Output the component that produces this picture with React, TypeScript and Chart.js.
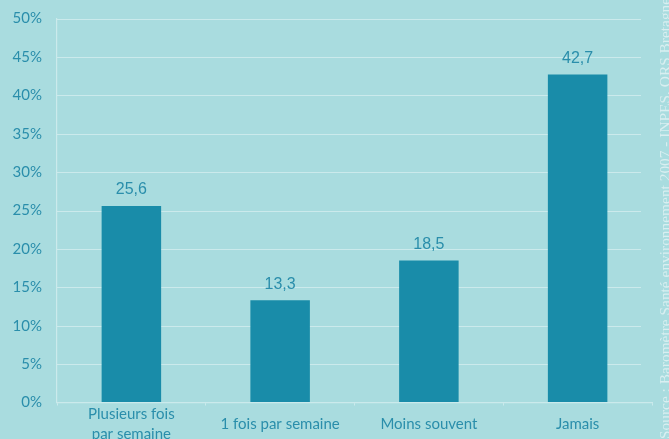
import React, { useEffect, useRef } from "react";
import { Chart, registerables } from "chart.js";

Chart.register(...registerables);

const categories: (string | string[])[] = [
  ["Plusieurs fois", "par semaine"],
  "1 fois par semaine",
  "Moins souvent",
  "Jamais",
];
const values: number[] = [25.6, 13.3, 18.5, 42.7];
const yMax = 50;
const yStep = 5;
const sourceText = "Source : Baromètre Santé environnement 2007 - INPES, ORS Bretagne";

const BG = "#a9dcdf";
const BAR = "#198ca9";
const TEXT = "#2a8eab";
const GRID = "#cbeaec";
const SRC = "rgba(255,255,255,0.55)";

export default function App() {
  const ref = useRef<HTMLCanvasElement | null>(null);

  useEffect(() => {
    document.body.style.margin = "0";
    const canvas = ref.current;
    if (!canvas) return;

    const gridPlugin = {
      id: "customGrid",
      beforeDatasetsDraw(chart: any) {
        const { ctx, chartArea, scales } = chart;
        const y = scales.y;
        ctx.save();
        ctx.strokeStyle = GRID;
        ctx.lineWidth = 1.2;
        y.ticks.forEach((t: any) => {
          if (t.value === 0) return;
          const py = Math.round(y.getPixelForValue(t.value)) + 0.5;
          ctx.beginPath();
          ctx.moveTo(chartArea.left, py);
          ctx.lineTo(chartArea.right - 11, py);
          ctx.stroke();
        });
        ctx.restore();
      },
    };

    const labelPlugin = {
      id: "valueLabels",
      afterDatasetsDraw(chart: any) {
        const { ctx } = chart;
        const meta = chart.getDatasetMeta(0);
        ctx.save();
        ctx.fillStyle = TEXT;
        ctx.font = "16px 'Liberation Sans', Arial, sans-serif";
        ctx.textAlign = "center";
        ctx.textBaseline = "middle";
        meta.data.forEach((bar: any, i: number) => {
          const txt = values[i].toFixed(1).replace(".", ",");
          ctx.fillText(txt, bar.x, bar.y - 16);
        });
        ctx.restore();
      },
    };

    const sourcePlugin = {
      id: "sourceText",
      afterDraw(chart: any) {
        const { ctx } = chart;
        ctx.save();
        ctx.translate(670, 439);
        ctx.rotate(-Math.PI / 2);
        ctx.fillStyle = SRC;
        ctx.font = "15.4px 'Liberation Serif', 'Times New Roman', serif";
        ctx.textAlign = "left";
        ctx.textBaseline = "alphabetic";
        ctx.fillText(sourceText, 0, 0);
        ctx.restore();
      },
    };

    const chart = new Chart(canvas, {
      type: "bar",
      data: {
        labels: categories,
        datasets: [
          {
            data: values,
            backgroundColor: BAR,
            borderWidth: 0,
            barPercentage: 0.4,
            categoryPercentage: 1,
          },
        ],
      },
      options: {
        responsive: false,
        animation: false,
        layout: { padding: { top: 18.5, right: 17, left: 0, bottom: 0 } },
        plugins: {
          legend: { display: false },
          tooltip: { enabled: false },
          title: { display: false },
        },
        scales: {
          x: {
            afterFit(scale: any) {
              scale.height = 36.5;
              scale.paddingLeft = 0;
              scale.paddingRight = 0;
            },
            grid: {
              drawOnChartArea: false,
              drawTicks: true,
              tickLength: 3,
              color: GRID,
              offset: true,
            },
            border: { display: true, color: GRID, width: 1.2 },
            ticks: {
              color: TEXT,
              font: { family: "Lato, 'Open Sans', sans-serif", size: 15, lineHeight: 1.33 },
              padding: 9,
              maxRotation: 0,
              autoSkip: false,
              crossAlign: "center",
            },
          },
          y: {
            min: 0,
            max: yMax,
            afterFit(scale: any) {
              scale.width = 57;
              scale.paddingTop = 0;
              scale.paddingBottom = 0;
            },
            grid: { drawOnChartArea: false, drawTicks: false },
            border: { display: true, color: GRID, width: 1.2 },
            ticks: {
              stepSize: yStep,
              color: TEXT,
              padding: 15,
              font: { family: "Lato, 'Open Sans', sans-serif", size: 15 },
              callback: (v: any) => `${v}%`,
            },
          },
        },
      },
      plugins: [gridPlugin, labelPlugin, sourcePlugin],
    });

    return () => chart.destroy();
  }, []);

  return (
    <div style={{ width: 669, height: 439, background: BG, overflow: "hidden" }}>
      <canvas ref={ref} width={669} height={439} style={{ display: "block" }} />
    </div>
  );
}
